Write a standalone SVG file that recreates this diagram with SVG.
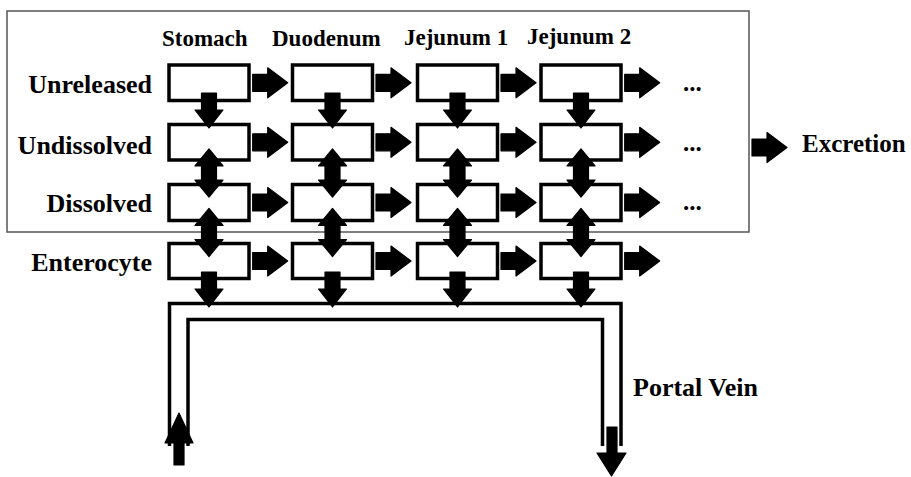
<svg xmlns="http://www.w3.org/2000/svg" xmlns:xlink="http://www.w3.org/1999/xlink" width="911" height="477" viewBox="0 0 911 477">
  <style>
    .lbl { font-family: "Liberation Serif", "Times New Roman", serif; font-weight: bold; fill: #000; }
    .row { font-size: 26px; text-anchor: end; }
    .col { font-size: 23px; }
    .box { fill: #fff; stroke: #000; stroke-width: 3.5; }
    .frame { fill: none; stroke: #555; stroke-width: 1.5; }
    .tube { fill: none; stroke: #000; stroke-width: 3.5; }
    .blk { fill: #000; stroke: #000; stroke-width: 1.2; stroke-linejoin: round; }
  </style>
  <defs>
    <!-- block arrow pointing right, origin at shaft start / centre line -->
    <path id="arR" class="blk" d="M0,-8.5 H15 V-15 L35,0 L15,15 V8.5 H0 Z"/>
    <!-- block arrow pointing down, origin at shaft top / centre line -->
    <path id="arD" class="blk" d="M-7.5,0 H7.5 V17 H14 L0,35 L-14,17 H-7.5 Z"/>
    <!-- double-headed vertical arrow, origin at upper tip -->
    <path id="arUD" class="blk" d="M0,0 L14,17 H7.5 V31 H14 L0,48 L-14,31 H-7.5 V17 H-14 Z"/>
  </defs>

  <!-- lumen frame -->
  <rect class="frame" x="7" y="11" width="742" height="221"/>

  <!-- column headings -->
  <g id="headings" class="lbl col">
    <text x="162" y="46">Stomach</text>
    <text x="272" y="46">Duodenum</text>
    <text x="404" y="45">Jejunum 1</text>
    <text x="527" y="44">Jejunum 2</text>
  </g>

  <!-- row labels -->
  <g id="rowlabels" class="lbl row">
    <text x="152" y="93">Unreleased</text>
    <text x="152" y="154">Undissolved</text>
    <text x="152" y="212">Dissolved</text>
    <text x="152" y="271">Enterocyte</text>
  </g>

  <!-- compartments -->
  <g id="stomach">
    <rect class="box" x="169" y="65" width="80" height="35.5"/>
    <rect class="box" x="169" y="124.5" width="80" height="35.5"/>
    <rect class="box" x="169" y="184.5" width="80" height="36"/>
    <rect class="box" x="169" y="243.5" width="80" height="35"/>
  </g>
  <g id="duodenum">
    <rect class="box" x="292.5" y="65" width="80" height="35.5"/>
    <rect class="box" x="292.5" y="124.5" width="80" height="35.5"/>
    <rect class="box" x="292.5" y="184.5" width="80" height="36"/>
    <rect class="box" x="292.5" y="243.5" width="80" height="35"/>
  </g>
  <g id="jejunum1">
    <rect class="box" x="417.5" y="65" width="80" height="35.5"/>
    <rect class="box" x="417.5" y="124.5" width="80" height="35.5"/>
    <rect class="box" x="417.5" y="184.5" width="80" height="36"/>
    <rect class="box" x="417.5" y="243.5" width="80" height="35"/>
  </g>
  <g id="jejunum2">
    <rect class="box" x="541" y="65" width="80" height="35.5"/>
    <rect class="box" x="541" y="124.5" width="80" height="35.5"/>
    <rect class="box" x="541" y="184.5" width="80" height="36"/>
    <rect class="box" x="541" y="243.5" width="80" height="35"/>
  </g>

  <!-- continuation marks -->
  <g id="more" class="lbl" font-size="25">
    <text x="683" y="91">...</text>
    <text x="683" y="151">...</text>
    <text x="683" y="210">...</text>
  </g>

  <!-- excretion -->
  <g id="excretion">
    <use xlink:href="#arR" x="752" y="147.5"/>
    <text class="lbl" font-size="25" x="802" y="152">Excretion</text>
  </g>

  <!-- portal vein label -->
  <g id="portal">
    <text class="lbl" font-size="26" x="633" y="396">Portal Vein</text>
  </g>

  <!-- connectors -->
  <g id="connectors">
    <!-- transit between segments -->
    <use xlink:href="#arR" x="252.7" y="82.8"/>
    <use xlink:href="#arR" x="376" y="82.8"/>
    <use xlink:href="#arR" x="501" y="82.8"/>
    <use xlink:href="#arR" x="624.7" y="82.8"/>
    <use xlink:href="#arR" x="252.7" y="142.3"/>
    <use xlink:href="#arR" x="376" y="142.3"/>
    <use xlink:href="#arR" x="501" y="142.3"/>
    <use xlink:href="#arR" x="624.7" y="142.3"/>
    <use xlink:href="#arR" x="252.7" y="202.5"/>
    <use xlink:href="#arR" x="376" y="202.5"/>
    <use xlink:href="#arR" x="501" y="202.5"/>
    <use xlink:href="#arR" x="624.7" y="202.5"/>
    <use xlink:href="#arR" x="252.7" y="261"/>
    <use xlink:href="#arR" x="376" y="261"/>
    <use xlink:href="#arR" x="501" y="261"/>
    <use xlink:href="#arR" x="624.7" y="261"/>

    <!-- release: unreleased to undissolved -->
    <use xlink:href="#arD" x="209" y="93"/>
    <use xlink:href="#arD" x="332.5" y="93"/>
    <use xlink:href="#arD" x="457.5" y="93"/>
    <use xlink:href="#arD" x="581" y="93"/>

    <!-- dissolution / precipitation -->
    <use xlink:href="#arUD" x="209" y="149"/>
    <use xlink:href="#arUD" x="332.5" y="149"/>
    <use xlink:href="#arUD" x="457.5" y="149"/>
    <use xlink:href="#arUD" x="581" y="149"/>

    <!-- absorption / efflux -->
    <use xlink:href="#arUD" x="209" y="208.5"/>
    <use xlink:href="#arUD" x="332.5" y="208.5"/>
    <use xlink:href="#arUD" x="457.5" y="208.5"/>
    <use xlink:href="#arUD" x="581" y="208.5"/>

    <!-- enterocyte to portal vein -->
    <use xlink:href="#arD" x="209" y="272"/>
    <use xlink:href="#arD" x="332.5" y="272"/>
    <use xlink:href="#arD" x="457.5" y="272"/>
    <use xlink:href="#arD" x="581" y="272"/>

    <!-- portal vein tube -->
    <path class="tube" d="M169.5,446 V303.5 H621 V446"/>
    <path class="tube" d="M188,446 V319.5 H602.5 V446"/>

    <!-- tube ends -->
    <path class="blk" d="M179,413 L193,443 H184 V465 H174 V443 H165 Z"/>
    <path class="blk" d="M607,427 H617 V453 H626 L611.5,476 L597,453 H607 Z"/>
  </g>
</svg>
